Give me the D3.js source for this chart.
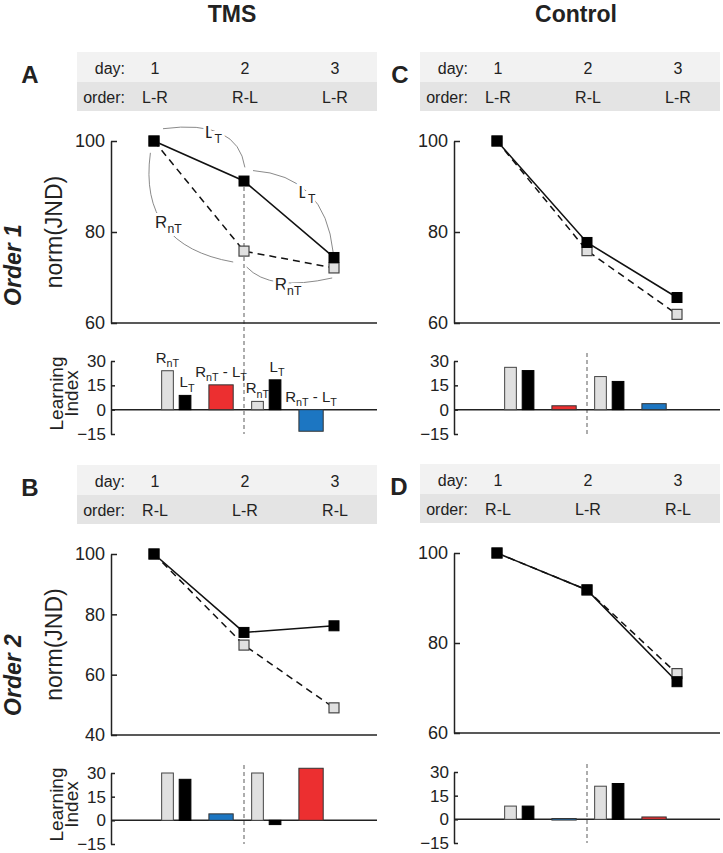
<!DOCTYPE html>
<html>
<head>
<meta charset="utf-8">
<script src="https://cdn.jsdelivr.net/npm/d3@7"></script>
<style>
body { margin: 0; background: #fff; }
svg text { font-family: "Liberation Sans", Arial, sans-serif; fill: #222; }
</style>
</head>
<body>
<script>
// ---- data ----
var days = [1, 2, 3];
var dayLabels = ["1", "2", "3"];
var ordersOrder1 = ["L-R", "R-L", "L-R"];
var ordersOrder2 = ["R-L", "L-R", "R-L"];

// norm(JND), solid = L_T (black), dashed = R_nT (gray)
var tmsOrder1LT = [100, 91.2, 74.4];
var tmsOrder1RnT = [100, 75.8, 72.1];
var ctlOrder1LT = [100, 77.7, 65.6];
var ctlOrder1RnT = [100, 75.9, 61.9];
var tmsOrder2LT = [100, 74.0, 76.2];
var tmsOrder2RnT = [100, 69.8, 49.0];
var ctlOrder2LT = [100, 91.8, 71.4];
var ctlOrder2RnT = [100, 91.8, 73.2];

// learning index, per transition (day1-2, day2-3): [RnT, LT, RnT-LT]
var tmsOrder1LI = [[24.0, 8.8, 15.3], [5.1, 18.4, -13.3]];
var ctlOrder1LI = [[26.1, 24.1, 2.4], [20.4, 17.4, 3.7]];
var tmsOrder2LI = [[30.0, 26.0, 4.1], [30.0, -2.7, 33.0]];
var ctlOrder2LI = [[8.4, 8.4, 0.5], [21.0, 22.7, 1.5]];

var lineTicksOrder1 = [60, 80, 100];
var lineTicksOrder2 = [40, 60, 80, 100];
var barTicks = [-15, 0, 15, 30];

var RED = "#ec2f30", BLUE = "#1c76c2", GRAYFILL = "#e0e0e0";

var width = 723, height = 853;
var svg = d3.select("body").append("svg")
    .attr("width", width)
    .attr("height", height);

// titles
svg.append("text").attr("x", 232).attr("y", 22).attr("text-anchor", "middle")
    .attr("font-size", 23).attr("font-weight", "bold").text("TMS");
svg.append("text").attr("x", 576).attr("y", 22).attr("text-anchor", "middle")
    .attr("font-size", 23).attr("font-weight", "bold").text("Control");

// row labels
[["Order 1", 265], ["Order 2", 675]].forEach(function (r) {
    svg.append("text")
        .attr("transform", "translate(21," + r[1] + ") rotate(-90)")
        .attr("text-anchor", "middle")
        .attr("font-size", 23).attr("font-weight", "bold").attr("font-style", "italic")
        .text(r[0]);
});

// helper for text with subscripts: parts = [[text, isSub], ...]
function subText(g, x, y, parts, fs, anchor) {
    var t = g.append("text").attr("x", x).attr("y", y)
        .attr("text-anchor", anchor || "middle").attr("font-size", fs);
    var down = false;
    parts.forEach(function (p) {
        var sp = t.append("tspan").text(p[0]);
        if (p[1]) {
            sp.attr("font-size", fs * 0.72).attr("dy", down ? 0 : fs * 0.28);
            down = true;
        } else {
            sp.attr("dy", down ? -fs * 0.28 : 0);
            down = false;
        }
    });
    return t;
}
var LBL_RNT = [["R"], ["nT", true]];
var LBL_LT = [["L"], ["T", true]];
var LBL_DIFF = [["R"], ["nT", true], [" - L"], ["T", true]];

var panels = [
    { letter: "A", letterX: 30, dx: 0, top: 52, orders: ordersOrder1, lt: tmsOrder1LT, rnt: tmsOrder1RnT,
      li: tmsOrder1LI, diffColors: [RED, BLUE], yDomain: [60, 100], lineRange: [323, 141],
      lineTicks: lineTicksOrder1, barRange: [434, 361], yLabels: true, annotate: true },
    { letter: "C", letterX: 400, dx: 343, top: 52, orders: ordersOrder1, lt: ctlOrder1LT, rnt: ctlOrder1RnT,
      li: ctlOrder1LI, diffColors: [RED, BLUE], yDomain: [60, 100], lineRange: [323, 141],
      lineTicks: lineTicksOrder1, barRange: [434, 361], yLabels: false, annotate: false },
    { letter: "B", letterX: 30, dx: 0, top: 465, orders: ordersOrder2, lt: tmsOrder2LT, rnt: tmsOrder2RnT,
      li: tmsOrder2LI, diffColors: [BLUE, RED], yDomain: [40, 100], lineRange: [735, 554],
      lineTicks: lineTicksOrder2, barRange: [844, 773], yLabels: true, annotate: false },
    { letter: "D", letterX: 399, dx: 343, top: 464, orders: ordersOrder2, lt: ctlOrder2LT, rnt: ctlOrder2RnT,
      li: ctlOrder2LI, diffColors: [BLUE, RED], yDomain: [60, 100], lineRange: [733, 553],
      lineTicks: lineTicksOrder1, barRange: [843, 772], yLabels: false, annotate: false }
];

panels.forEach(function (p) {
    var g = svg.append("g");
    var axisX = 111 + p.dx, rightX = 377 + p.dx;
    var x = d3.scaleLinear().domain([1, 3]).range([154 + p.dx, 334 + p.dx]);
    var y = d3.scaleLinear().domain(p.yDomain).range(p.lineRange);
    var yb = d3.scaleLinear().domain([-15, 30]).range(p.barRange);

    // panel letter
    g.append("text").attr("x", p.letterX).attr("y", p.top + 31).attr("text-anchor", "middle")
        .attr("font-size", 24).attr("font-weight", "bold").attr("fill", "#111").text(p.letter);

    // header table
    g.append("rect").attr("x", 77 + p.dx).attr("y", p.top).attr("width", 300).attr("height", 30)
        .attr("fill", "#f2f2f2");
    g.append("rect").attr("x", 77 + p.dx).attr("y", p.top + 30).attr("width", 300).attr("height", 29)
        .attr("fill", "#e4e4e4");
    g.append("text").attr("x", 125 + p.dx).attr("y", p.top + 22).attr("text-anchor", "end")
        .attr("font-size", 16).attr("fill", "#333").text("day:");
    g.append("text").attr("x", 125 + p.dx).attr("y", p.top + 51).attr("text-anchor", "end")
        .attr("font-size", 16).attr("fill", "#333").text("order:");
    g.selectAll(".dayl").data(days).enter().append("text")
        .attr("x", d => x(d) + 1).attr("y", p.top + 22).attr("text-anchor", "middle")
        .attr("font-size", 16).text((d, i) => dayLabels[i]);
    g.selectAll(".ordl").data(days).enter().append("text")
        .attr("x", d => x(d) + 1).attr("y", p.top + 51).attr("text-anchor", "middle")
        .attr("font-size", 16).text((d, i) => p.orders[i]);

    // dashed vertical separator at day 2
    var dashTop = p.annotate ? y(p.lt[1]) + 6 : p.barRange[1] - 8;
    g.append("line").attr("x1", x(2)).attr("x2", x(2))
        .attr("y1", dashTop).attr("y2", p.barRange[0])
        .attr("stroke", "#777").attr("stroke-width", 1.2).attr("stroke-dasharray", "4,3");

    // line chart axes
    var yAxis = d3.axisLeft(y).tickValues(p.lineTicks).tickSize(-6).tickSizeOuter(0).tickPadding(6);
    var ga = g.append("g").attr("transform", "translate(" + axisX + ",0)").call(yAxis);
    ga.selectAll("text").attr("font-size", 18).attr("font-family", null);
    ga.selectAll("path, line").attr("stroke", "#222").attr("stroke-width", 1.5);
    g.append("line").attr("x1", axisX).attr("x2", rightX)
        .attr("y1", y(p.yDomain[0])).attr("y2", y(p.yDomain[0]))
        .attr("stroke", "#222").attr("stroke-width", 1.5);

    if (p.yLabels) {
        g.append("text")
            .attr("transform", "translate(62," + ((p.lineRange[0] + p.lineRange[1]) / 2) + ") rotate(-90)")
            .attr("text-anchor", "middle").attr("font-size", 23).text("norm(JND)");
        var lg = g.append("text")
            .attr("transform", "translate(0," + ((p.barRange[0] + p.barRange[1]) / 2 - 4) + ") rotate(-90)")
            .attr("text-anchor", "middle").attr("font-size", 19);
        lg.append("tspan").attr("x", 0).attr("y", 63).text("Learning");
        lg.append("tspan").attr("x", 0).attr("y", 78).text("Index");
    }

    // annotation arcs (panel A only)
    if (p.annotate) {
        var arcs = [
            { a: [1.10, 102.7], c: [1.93, 104.9], b: [2.01, 94.2], lab: [1.66, 102.0], txt: LBL_LT },
            { a: [2.10, 93.5], c: [2.90, 92.4], b: [2.99, 75.6], lab: [2.70, 88.7], txt: LBL_LT },
            { a: [0.96, 97.4], c: [0.82, 77.1], b: [1.88, 73.4], lab: [1.16, 82.1], txt: LBL_RNT },
            { a: [2.03, 72.3], c: [2.29, 66.8], b: [2.98, 69.9], lab: [2.49, 68.6], txt: LBL_RNT }
        ];
        arcs.forEach(function (a) {
            var path = d3.path();
            path.moveTo(x(a.a[0]), y(a.a[1]));
            path.quadraticCurveTo(x(a.c[0]), y(a.c[1]), x(a.b[0]), y(a.b[1]));
            g.append("path").attr("d", path.toString()).attr("fill", "none")
                .attr("stroke", "#8a8a8a").attr("stroke-width", 1);
            subText(g, x(a.lab[0]), y(a.lab[1]) + 6, a.txt, 17)
                .attr("stroke", "#fff").attr("stroke-width", 6).attr("paint-order", "stroke");
        });
    }

    // lines
    var line = d3.line().x((d, i) => x(days[i])).y(d => y(d));
    g.append("path").datum(p.rnt).attr("d", line).attr("fill", "none")
        .attr("stroke", "#111").attr("stroke-width", 1.5).attr("stroke-dasharray", "7,5");
    g.append("path").datum(p.lt).attr("d", line).attr("fill", "none")
        .attr("stroke", "#111").attr("stroke-width", 1.6);
    var ms = 10;
    g.selectAll(".mr").data(p.rnt).enter().append("rect")
        .attr("x", (d, i) => x(days[i]) - ms / 2).attr("y", d => y(d) - ms / 2)
        .attr("width", ms).attr("height", ms)
        .attr("fill", GRAYFILL).attr("stroke", "#444").attr("stroke-width", 1.2);
    g.selectAll(".ml").data(p.lt).enter().append("rect")
        .attr("x", (d, i) => x(days[i]) - ms / 2).attr("y", d => y(d) - ms / 2)
        .attr("width", ms).attr("height", ms)
        .attr("fill", "#000").attr("stroke", "#000").attr("stroke-width", 1);

    // bar chart
    var bAxis = d3.axisLeft(yb).tickValues(barTicks).tickSize(-4).tickSizeOuter(0).tickPadding(5);
    var gb = g.append("g").attr("transform", "translate(" + axisX + ",0)").call(bAxis);
    gb.selectAll("text").attr("font-size", 17).attr("font-family", null);
    gb.selectAll("path, line").attr("stroke", "#222").attr("stroke-width", 1.5);
    g.append("line").attr("x1", axisX).attr("x2", rightX).attr("y1", yb(0)).attr("y2", yb(0))
        .attr("stroke", "#222").attr("stroke-width", 1.5);

    var slotOffset = [0.15, 0.345, 0.745];  // in day units from the transition start
    var slotWidth = [0.13, 0.13, 0.27];
    var bars = [];
    p.li.forEach(function (grp, gi) {
        grp.forEach(function (v, k) {
            bars.push({
                v: v, k: k, start: days[gi] + slotOffset[k] - slotWidth[k] / 2, w: slotWidth[k],
                fill: k === 0 ? GRAYFILL : (k === 1 ? "#000" : p.diffColors[gi]),
                stroke: k === 0 ? "#444" : (k === 1 ? "#000" : "#333")
            });
        });
    });
    g.selectAll(".bar").data(bars).enter().append("rect")
        .attr("x", d => x(d.start))
        .attr("y", d => yb(Math.max(0, d.v)))
        .attr("width", d => x(d.start + d.w) - x(d.start))
        .attr("height", d => Math.max(1.5, Math.abs(yb(d.v) - yb(0))))
        .attr("fill", d => d.fill).attr("stroke", d => d.stroke).attr("stroke-width", 1);

    if (p.annotate) {
        var labs = [LBL_RNT, LBL_LT, LBL_DIFF];
        bars.forEach(function (b) {
            subText(g, x(b.start + b.w / 2) + (b.k === 1 ? 2 : 0), yb(Math.max(0, b.v)) - 8, labs[b.k], 15);
        });
    }
});
</script>
</body>
</html>
